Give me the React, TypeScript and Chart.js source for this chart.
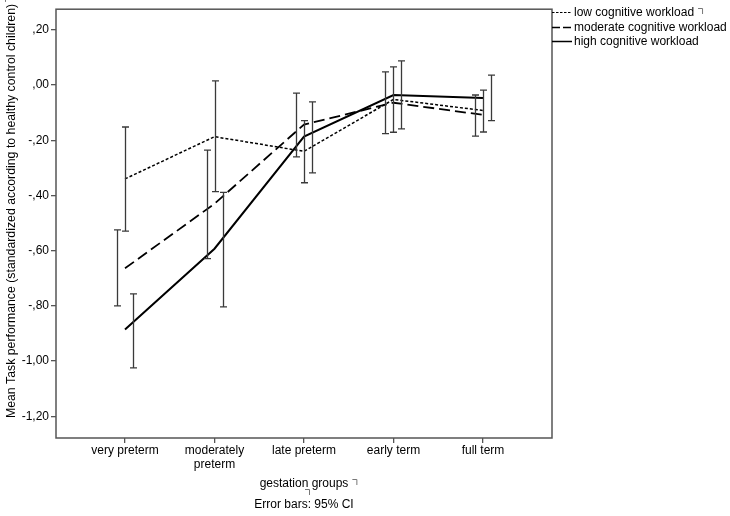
import React, { useEffect, useRef } from "react";
import { Chart, registerables } from "chart.js";

Chart.register(...registerables);

// ---------- data ----------
const categories = ["very preterm", "moderately preterm", "late preterm", "early term", "full term"];
const categoryLines = [["very preterm"], ["moderately", "preterm"], ["late preterm"], ["early term"], ["full term"]];
const seriesNames = ["low cognitive workload", "moderate cognitive workload", "high cognitive workload"];

const lowMean = [-0.34, -0.187, -0.24, -0.052, -0.092];
const lowLower = [-0.529, -0.386, -0.354, -0.171, -0.17];
const lowUpper = [-0.152, 0.015, -0.129, 0.066, -0.018];

const moderateMean = [-0.664, -0.43, -0.143, -0.064, -0.108];
const moderateLower = [-0.8, -0.629, -0.26, -0.176, -0.185];
const moderateUpper = [-0.525, -0.236, -0.029, 0.048, -0.036];

const highMean = [-0.886, -0.593, -0.187, -0.036, -0.047];
const highLower = [-1.025, -0.804, -0.318, -0.159, -0.129];
const highUpper = [-0.757, -0.389, -0.061, 0.088, 0.036];

const yTickValues = [0.2, 0, -0.2, -0.4, -0.6, -0.8, -1.0, -1.2];
const yTitle = "Mean Task performance (standardized according to healthy control children)";
const xTitle = "gestation groups";
const footnote = "Error bars: 95% CI";

// ---------- styles ----------
const FONT = "'Liberation Sans', Arial, sans-serif";
const FONT_SIZE = 12;
const AXIS_GREY = "#555555";
const BAR_GREY = "#3a3a3a";
const dashes = [[3, 2], [11, 5], []];
const widths = [1.5, 1.8, 2];
const dodgePx = [0, -8, 8];
const legendY = [12, 26.5, 41];

const means = [lowMean, moderateMean, highMean];
const lowers = [lowLower, moderateLower, highLower];
const uppers = [lowUpper, moderateUpper, highUpper];

function fmt(v: number): string {
  const s = Math.abs(v).toFixed(2).replace(".", ",");
  const t = s.startsWith("0") ? s.slice(1) : s;
  return (v < -1e-9 ? "-" : "") + t;
}

function bracket(ctx: CanvasRenderingContext2D, x: number, y: number) {
  ctx.save();
  ctx.strokeStyle = "#777";
  ctx.lineWidth = 1;
  ctx.setLineDash([]);
  ctx.beginPath();
  ctx.moveTo(x, y + 0.5);
  ctx.lineTo(x + 4.5, y + 0.5);
  ctx.lineTo(x + 4.5, y + 6);
  ctx.stroke();
  ctx.restore();
}

const decor = {
  id: "decor",
  afterDatasetsDraw(chart: any) {
    const ctx: CanvasRenderingContext2D = chart.ctx;
    const xs = chart.scales.x;
    const ys = chart.scales.y;
    ctx.save();
    ctx.strokeStyle = BAR_GREY;
    ctx.lineWidth = 1.3;
    ctx.setLineDash([]);
    for (let s = 0; s < 3; s++) {
      for (let i = 0; i < categories.length; i++) {
        const x = Math.round(xs.getPixelForValue(i) + dodgePx[s]) + 0.5;
        const yt = ys.getPixelForValue(uppers[s][i]);
        const yb = ys.getPixelForValue(lowers[s][i]);
        ctx.beginPath();
        ctx.moveTo(x, yt);
        ctx.lineTo(x, yb);
        ctx.moveTo(x - 3.5, yt);
        ctx.lineTo(x + 3.5, yt);
        ctx.moveTo(x - 3.5, yb);
        ctx.lineTo(x + 3.5, yb);
        ctx.stroke();
      }
    }
    ctx.restore();
  },
  afterDraw(chart: any) {
    const ctx: CanvasRenderingContext2D = chart.ctx;
    const a = chart.chartArea;
    ctx.save();
    // plot frame
    ctx.strokeStyle = AXIS_GREY;
    ctx.lineWidth = 1.5;
    ctx.setLineDash([]);
    ctx.strokeRect(a.left, a.top, a.right - a.left, a.bottom - a.top);

    // legend
    ctx.font = `${FONT_SIZE}px ${FONT}`;
    ctx.fillStyle = "#000";
    ctx.textBaseline = "middle";
    ctx.textAlign = "left";
    for (let s = 0; s < 3; s++) {
      const y = Math.round(legendY[s]) + 0.5;
      ctx.strokeStyle = "#000";
      ctx.lineWidth = s === 0 ? 1.2 : 1.5;
      ctx.setLineDash(s === 0 ? [2.5, 1.5] : s === 1 ? [8, 3] : []);
      ctx.beginPath();
      ctx.moveTo(a.right, y);
      ctx.lineTo(a.right + 20, y);
      ctx.stroke();
      ctx.setLineDash([]);
      ctx.fillText(seriesNames[s], a.right + 22, legendY[s] + 1);
      if (s === 0) {
        const w = ctx.measureText(seriesNames[s]).width;
        bracket(ctx, a.right + 22 + w + 4, legendY[s] - 4);
      }
    }

    // x title + footnote
    const cx = (a.left + a.right) / 2;
    ctx.textAlign = "center";
    ctx.fillText(xTitle, cx, 484);
    const wx = ctx.measureText(xTitle).width;
    bracket(ctx, cx + wx / 2 + 4, 479);
    bracket(ctx, cx + 1, 489);
    ctx.fillText(footnote, cx, 505);

    // y title
    ctx.font = `12.3px ${FONT}`;
    ctx.translate(12, 211);
    ctx.rotate(-Math.PI / 2);
    ctx.textAlign = "center";
    ctx.fillText(yTitle, 0, 0);
    const wy = ctx.measureText(yTitle).width;
    bracket(ctx, wy / 2 + 2, -7);
    ctx.restore();
  },
};

export default function App() {
  const ref = useRef<HTMLCanvasElement | null>(null);
  useEffect(() => {
    if (!ref.current) return;
    const chart = new Chart(ref.current, {
      type: "line",
      data: {
        datasets: seriesNames.map((name, s) => ({
          label: name,
          data: means[s].map((y, i) => ({ x: i, y })),
          borderColor: "#000",
          borderWidth: widths[s],
          borderDash: dashes[s],
          pointRadius: 0,
          tension: 0,
          fill: false,
        })),
      },
      options: {
        animation: false,
        responsive: false,
        devicePixelRatio: 1,
        layout: { padding: { left: 0, top: 5, right: 178, bottom: 0 } },
        plugins: { legend: { display: false }, tooltip: { enabled: false } },
        scales: {
          x: {
            type: "linear",
            min: -0.771,
            max: 4.771,
            afterBuildTicks: (scale: any) => {
              scale.ticks = categories.map((_, i) => ({ value: i }));
            },
            afterFit: (scale: any) => {
              scale.height = 78;
            },
            border: { display: false },
            grid: { display: true, drawOnChartArea: false, drawTicks: true, tickLength: 5, color: AXIS_GREY, lineWidth: 1.3 },
            ticks: {
              autoSkip: false,
              maxRotation: 0,
              padding: 1,
              color: "#000",
              font: { family: FONT, size: FONT_SIZE, lineHeight: 1.15 },
              callback: (v: any) => categoryLines[Math.round(Number(v))] ?? "",
            },
          },
          y: {
            type: "linear",
            min: -1.279,
            max: 0.275,
            afterBuildTicks: (scale: any) => {
              scale.ticks = yTickValues.map((v) => ({ value: v }));
            },
            afterFit: (scale: any) => {
              scale.width = 56;
            },
            border: { display: false },
            grid: { display: true, drawOnChartArea: false, drawTicks: true, tickLength: 5, color: AXIS_GREY, lineWidth: 1.3 },
            ticks: {
              padding: 2,
              color: "#000",
              font: { family: FONT, size: FONT_SIZE },
              callback: (v: any) => fmt(Number(v)),
            },
          },
        },
      },
      plugins: [decor],
    } as any);
    return () => chart.destroy();
  }, []);
  return (
    <div style={{ position: "fixed", left: 0, top: 0, width: 730, height: 516, background: "#fff" }}>
      <canvas ref={ref} width={730} height={516} style={{ display: "block" }} />
    </div>
  );
}
